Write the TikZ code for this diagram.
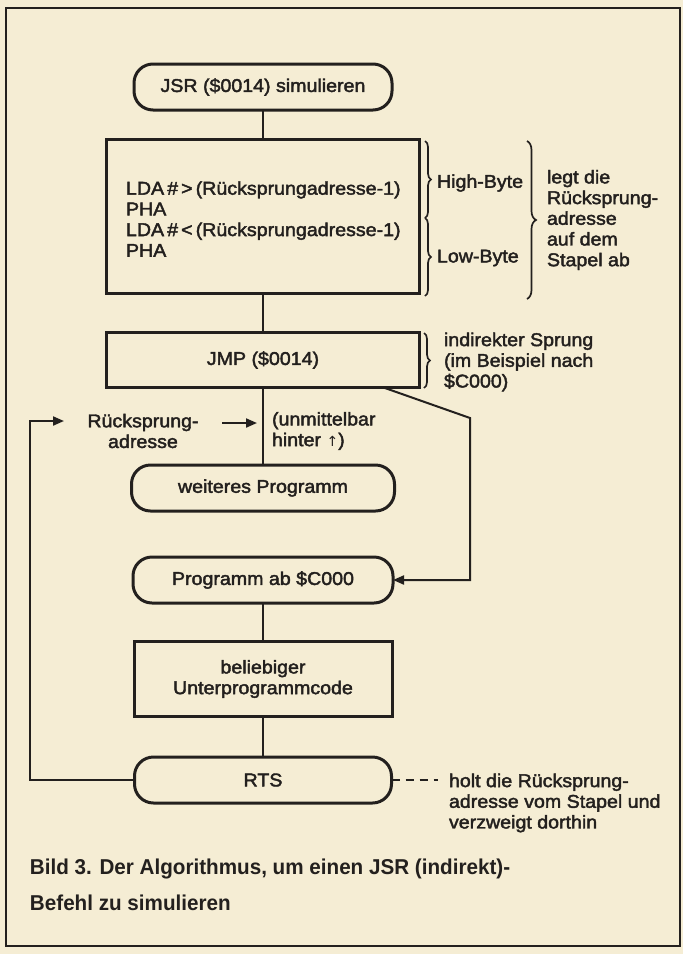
\documentclass[tikz,border=0pt]{standalone}
\usepackage{fontspec}
\setmainfont{Liberation Sans}[FakeStretch=1.06, FakeBold=2.2]
\newfontfamily\capfont{Liberation Sans Bold}[FakeStretch=0.96]
\newfontfamily\arrowfont{DejaVu Sans}
\usetikzlibrary{decorations.pathreplacing,arrows.meta}
\definecolor{paper}{RGB}{245,237,212}
\definecolor{ink}{RGB}{35,32,30}
\begin{document}
\begin{tikzpicture}[x=1pt,y=-1pt,
  every node/.style={inner sep=0pt, outer sep=0pt},
  txt/.style={font=\fontsize{18.5}{20.7}\selectfont, text=ink},
  term/.style={draw=ink, line width=3pt, rounded corners=19pt, minimum width=#1, minimum height=46pt, txt},
  box/.style={draw=ink, line width=3pt, txt},
  conn/.style={draw=ink, line width=2pt},
  brc/.style={draw=ink, line width=1.7pt, decorate, decoration={brace, amplitude=#1}},
  arr/.style={conn, -{Triangle[length=11pt,width=9pt]}},
  captxt/.style={font=\capfont\fontsize{21.5}{36}\selectfont, text=ink}
]
\fill[paper] (0,0) rectangle (683,954);
\useasboundingbox (0,0) rectangle (683,954);
\draw[ink, line width=2.2pt] (6,8) rectangle (680,946);

% main nodes
\node[term=258pt] (jsr) at (263,87) {JSR (\$0014) simulieren};
\node[box, minimum width=313pt, minimum height=154pt] (lda) at (263,216) {};
\node[txt, anchor=west, align=left] (ldatxt) at (126,219)
  {LDA\,\#\,>\,(Rücksprungadresse-1)\\PHA\\LDA\,\#\,<\,(Rücksprungadresse-1)\\PHA};
\node[box, minimum width=313pt, minimum height=55pt] (jmp) at (263,360) {JMP (\$0014)};
\node[term=263pt] (weit) at (263,488) {weiteres Programm};
\node[term=260pt] (prog) at (263,580) {Programm ab \$C000};
\node[box, minimum width=258pt, minimum height=75pt, align=center] (upc) at (263,679) {beliebiger\\Unterprogrammcode};
\node[term=257pt] (rts) at (263,780) {RTS};

% side texts
\node[txt, anchor=west] (hb) at (437,183) {High-Byte};
\node[txt, anchor=west] (lb) at (437,258) {Low-Byte};
\node[txt, anchor=west, align=left] (legt) at (547,220) {legt die\\Rücksprung-\\adresse\\auf dem\\Stapel ab};
\node[txt, anchor=west, align=left] (ind) at (444,362) {indirekter Sprung\\(im Beispiel nach\\\$C000)};
\node[txt, align=center] (radr) at (143,431) {Rücksprung-\\adresse};
\node[txt, anchor=west, align=left] (unm) at (272,431) {(unmittelbar\\hinter {\arrowfont\fontsize{14}{14}\selectfont ↑})};
\node[txt, anchor=west, align=left] (holt) at (449,803) {holt die Rücksprung-\\adresse vom Stapel und\\verzweigt dorthin};
\node[captxt, anchor=west, align=left] (caption) at (30,885) {Bild 3. Der Algorithmus, um einen JSR (indirekt)-\\Befehl zu simulieren};

% braces
\coordinate (b1a) at (425,141); \coordinate (b1b) at (425,218);
\coordinate (b2a) at (425,218); \coordinate (b2b) at (425,296);
\coordinate (b3a) at (527,141); \coordinate (b3b) at (527,299);
\coordinate (b4a) at (424,333); \coordinate (b4b) at (424,388);
\draw[brc=6pt] (b1a) -- (b1b);
\draw[brc=6pt] (b2a) -- (b2b);
\draw[brc=9pt] (b3a) -- (b3b);
\draw[brc=6pt] (b4a) -- (b4b);

% connectors
\draw[conn] (jsr) -- (lda);
\draw[conn] (lda) -- (jmp);
\draw[conn] (jmp) -- (weit);
\draw[conn] (prog) -- (upc);
\draw[conn] (upc) -- (rts);
\coordinate (jbend) at (470,418);
\draw[arr] ([xshift=-36pt]jmp.south east) -- (jbend) |- (prog.east);
\coordinate (lp) at (30,421);
\coordinate (lpend) at (64,421);
\draw[arr] (rts.west) -| (lp) -- (lpend);
\coordinate (ra1) at (222,423);
\coordinate (ra2) at (257,423);
\draw[arr] (ra1) -- (ra2);
\coordinate (rtsd) at (438,780);
\draw[conn, dash pattern=on 8pt off 6pt] (rts.east) -- (rtsd);
\end{tikzpicture}
\end{document}
